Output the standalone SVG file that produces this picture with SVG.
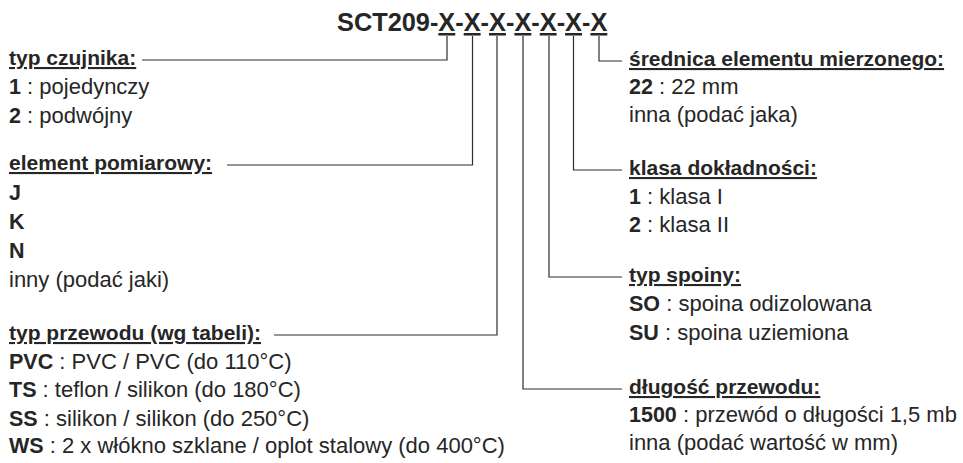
<svg xmlns="http://www.w3.org/2000/svg" width="963" height="463" viewBox="0 0 963 463">
<style>
text { font-family: "Liberation Sans", Arial, sans-serif; fill: #262626; }
.t { font-size: 25.33px; font-weight: bold; }
.h { font-size: 21px; font-weight: bold; text-decoration: underline; }
.r { font-size: 22px; }
.b { font-weight: bold; font-size: 21.5px; }
.u { text-decoration: underline; }
.c { fill: none; stroke: #2e2e2e; stroke-width: 1.2; }
</style>
<rect width="963" height="463" fill="#ffffff"/>
<g id="title">
<text class="t" x="337" y="31">SCT209-<tspan class="u">X</tspan>-<tspan class="u">X</tspan>-<tspan class="u">X</tspan>-<tspan class="u">X</tspan>-<tspan class="u">X</tspan>-<tspan class="u">X</tspan>-<tspan class="u">X</tspan></text>
</g>
<g id="connectors" class="c">
<path d="M447 36 V60 H142"/>
<path d="M472.5 36 V165 H227"/>
<path d="M497 36 V335 H274"/>
<path d="M523 36 V389 H622"/>
<path d="M549 36 V277 H622"/>
<path d="M573.5 36 V170 H622"/>
<path d="M599 36 V61 H622"/>
</g>
<g id="typ-czujnika">
<text class="h" x="9" y="65">typ czujnika:</text>
<text class="r" x="9" y="94"><tspan class="b">1</tspan> : pojedynczy</text>
<text class="r" x="9" y="122.5"><tspan class="b">2</tspan> : podwójny</text>
</g>
<g id="element-pomiarowy">
<text class="h" x="9" y="170">element pomiarowy:</text>
<text class="r b" x="9" y="200">J</text>
<text class="r b" x="9" y="229">K</text>
<text class="r b" x="9" y="258">N</text>
<text class="r" x="9" y="287">inny (podać jaki)</text>
</g>
<g id="typ-przewodu">
<text class="h" x="9" y="340">typ przewodu (wg tabeli):</text>
<text class="r" x="9" y="369"><tspan class="b">PVC</tspan> : PVC / PVC (do 110°C)</text>
<text class="r" x="9" y="397"><tspan class="b">TS</tspan> : teflon / silikon (do 180°C)</text>
<text class="r" x="9" y="425.5"><tspan class="b">SS</tspan> : silikon / silikon (do 250°C)</text>
<text class="r" x="9" y="453"><tspan class="b">WS</tspan> : 2 x włókno szklane / oplot stalowy (do 400°C)</text>
</g>
<g id="srednica">
<text class="h" x="629" y="66">średnica elementu mierzonego:</text>
<text class="r" x="629" y="94"><tspan class="b">22</tspan> : 22 mm</text>
<text class="r" x="629" y="122">inna (podać jaka)</text>
</g>
<g id="klasa">
<text class="h" x="629" y="175">klasa dokładności:</text>
<text class="r" x="629" y="204"><tspan class="b">1</tspan> : klasa I</text>
<text class="r" x="629" y="232"><tspan class="b">2</tspan> : klasa II</text>
</g>
<g id="typ-spoiny">
<text class="h" x="629" y="282">typ spoiny:</text>
<text class="r" x="629" y="311"><tspan class="b">SO</tspan> : spoina odizolowana</text>
<text class="r" x="629" y="340"><tspan class="b">SU</tspan> : spoina uziemiona</text>
</g>
<g id="dlugosc">
<text class="h" x="629" y="394">długość przewodu:</text>
<text class="r" x="629" y="422"><tspan class="b">1500</tspan> : przewód o długości 1,5 mb</text>
<text class="r" x="629" y="450">inna (podać wartość w mm)</text>
</g>
</svg>
